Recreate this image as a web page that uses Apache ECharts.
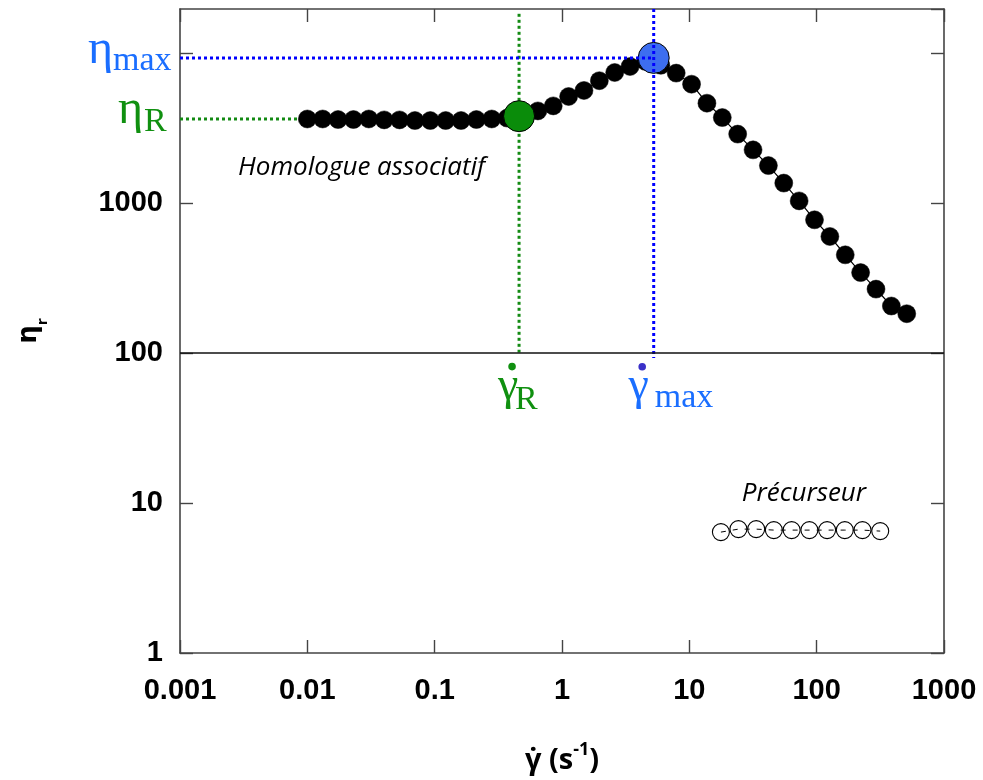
<!DOCTYPE html>
<html><head><meta charset="utf-8">
<script src="https://cdn.jsdelivr.net/npm/echarts@6/dist/echarts.min.js"></script>
<style>html,body{margin:0;padding:0;background:#fff}#c{width:983px;height:780px}</style>
</head><body><div id="c"></div>
<script>
// Homologue associatif (filled black circles)
const shearRate = [0.01,0.0132,0.01743,0.02302,0.03039,0.04013,0.05299,0.06997,0.09238,0.122,0.1611,0.2127,0.2808,0.3708,0.4896,0.6464,0.8535,1.127,1.488,1.965,2.594,3.425,4.523,5.972,7.885,10.41,13.75,18.15,23.97,31.65,41.78,55.17,72.85,96.2,127.0,167.7,221.4,292.4,386.1,509.8];
const viscosity = [3640,3640,3610,3610,3640,3590,3590,3555,3555,3555,3555,3610,3640,3690,3760,4120,4450,5140,5640,6550,7430,8150,8800,8300,7360,6210,4640,3720,2885,2265,1780,1360,1035,774,599,452,344,267,206,183];
// Précurseur (open circles)
const precShear = [17.7,24.3,33.5,46.1,63.6,87.7,120.8,166.4,229,315.6];
const precVisc = [6.4,6.7,6.7,6.6,6.6,6.6,6.6,6.6,6.6,6.5];
// Characteristic points
const gammaR = 0.46, etaR = 3800, etaPlateau = 3640;
const gammaMax = 5.25, etaMax = 9300;
// Tick labels
const xTickLabels = [0.001,0.01,0.1,1,10,100,1000];
const yTickLabels = [1,10,100,1000];
const xMin = 0.001, xMax = 1000, yMin = 1, yMax = 19700;

const BLUE = '#1a6eff', GREEN = '#109010', DOTBLUE = '#0000ff', DOTGREEN = '#138a13';
const AX = '#444';

function fmt(labels){
  return v => {
    const m = labels.find(t => Math.abs(Math.log10(v) - Math.log10(t)) < 1e-6);
    return m === undefined ? '' : String(m);
  };
}
const zip = (a,b) => a.map((v,i)=>[v,b[i]]);

const chart = echarts.init(document.getElementById('c'), null, {renderer:'canvas'});
const axisCommon = {
  type:'log', logBase:10,
  axisLine:{show:true, onZero:false, lineStyle:{color:AX, width:1.6}},
  axisTick:{show:true, inside:true, length:13, lineStyle:{color:AX, width:1.4}},
  splitLine:{show:false}, minorTick:{show:false}
};
const option = {
  animation:false,
  backgroundColor:'#fff',
  grid:{left:180, right:39, top:9, bottom:127, containLabel:false, outerBoundsMode:'none'},
  xAxis:[
    Object.assign({}, axisCommon, {min:xMin, max:xMax, splitNumber:6, position:'bottom',
      axisLabel:{show:true, formatter:fmt(xTickLabels), fontFamily:'Liberation Sans', fontWeight:'bold', fontSize:29, color:'#000', margin:23, showMinLabel:true, showMaxLabel:true},
      name:'{a|γ̇ (s}{s|-1}{a|)}', nameLocation:'middle', nameGap:88,
      nameTextStyle:{rich:{a:{fontFamily:'Open Sans', fontWeight:'bold', fontSize:29, color:'#000', lineHeight:34, verticalAlign:'bottom'}, s:{fontFamily:'Open Sans', fontWeight:'bold', fontSize:18, color:'#000', lineHeight:34, verticalAlign:'top', padding:[0,0,16,0]}}}
    }),
    Object.assign({}, axisCommon, {min:xMin, max:xMax, splitNumber:6, position:'top', axisLabel:{show:false}})
  ],
  yAxis:[
    Object.assign({}, axisCommon, {min:yMin, max:yMax, splitNumber:5, position:'left',
      axisLabel:{show:true, formatter:fmt(yTickLabels), fontFamily:'Liberation Sans', fontWeight:'bold', fontSize:29, color:'#000', margin:17, showMaxLabel:false},
      name:'{a|η}{s|r}', nameLocation:'middle', nameGap:138, nameRotate:90,
      nameTextStyle:{rich:{a:{fontFamily:'DejaVu Sans', fontWeight:'bold', fontSize:26, color:'#000', lineHeight:32, verticalAlign:'bottom'}, s:{fontFamily:'DejaVu Sans', fontWeight:'bold', fontSize:14, color:'#000', lineHeight:32, verticalAlign:'bottom', padding:[0,0,-8,0]}}}
    }),
    Object.assign({}, axisCommon, {min:yMin, max:yMax, splitNumber:5, position:'right', axisLabel:{show:false}})
  ],
  series:[
    { name:'guideGreen', type:'line', z:1, symbol:'none', silent:true,
      data:[[xMin, etaPlateau],[shearRate[0], etaPlateau]],
      lineStyle:{color:DOTGREEN, width:3, type:[3,3]} },
    { name:'guideGreenV', type:'line', z:1, symbol:'none', silent:true,
      data:[[gammaR, 18300],[gammaR, 101]],
      lineStyle:{color:DOTGREEN, width:3, type:[3,3]} },
    { name:'Homologue associatif', type:'line', z:2, symbol:'circle', symbolSize:18,
      data:zip(shearRate, viscosity),
      itemStyle:{color:'#000', borderColor:'#000', borderWidth:0.5},
      lineStyle:{color:'#000', width:1.2},
      markLine:{silent:true, symbol:['none','none'], label:{show:false},
        lineStyle:{color:'#111', width:1.6, type:'solid'}, data:[{yAxis:100}]} },
    { name:'Précurseur', type:'line', z:2, symbol:'circle', symbolSize:17,
      data:zip(precShear, precVisc),
      itemStyle:{color:'rgba(0,0,0,0)', borderColor:'#000', borderWidth:1.1},
      lineStyle:{color:'#000', width:1, type:[5,7]} },
    { name:'R', type:'scatter', z:3, symbol:'circle', symbolSize:31,
      data:[[gammaR, etaR]], itemStyle:{color:'#0a8c0a', opacity:1, borderColor:'#000', borderWidth:1} },
    { name:'max', type:'scatter', z:3, symbol:'circle', symbolSize:31,
      data:[[gammaMax, etaMax]], itemStyle:{color:'#3d6ef0', opacity:1, borderColor:'#000', borderWidth:1} },
    { name:'guideBlueH', type:'line', z:4, symbol:'none', silent:true,
      data:[[xMin, etaMax],[gammaMax, etaMax]],
      lineStyle:{color:DOTBLUE, width:3, type:[3,3]} },
    { name:'guideBlueV', type:'line', z:4, symbol:'none', silent:true,
      data:[[gammaMax, yMax],[gammaMax, 92.6]],
      lineStyle:{color:DOTBLUE, width:3, type:[3,3]} }
  ]
};
chart.setOption(option);

const P = v => chart.convertToPixel({xAxisIndex:0, yAxisIndex:0}, v);
const x0 = P([xMin, yMin])[0];
const pm = P([gammaMax, etaMax]);
const pp = P([xMin, etaPlateau]);
const pr = P([gammaR, etaR]);
const y100 = P([xMin, 100])[1];
const serif = 'Liberation Serif';
function T(x, y, text, size, color, align){
  return {type:'text', x:x, y:y, silent:true, z:20,
    style:{text:text, fontFamily:serif, fontSize:size, fill:color, align:align||'left', verticalAlign:'middle'}};
}
const pHom = P([0.0267, 1720]);
const pPre = P([79.4, 11.6]);
chart.setOption({graphic:[
  T(x0-67, pm[1]-7.5, 'η', 48, BLUE, 'right'),
  T(x0-67, pm[1]+3.5, 'max', 34, BLUE, 'left'),
  T(x0-37, pp[1]-8.5, 'η', 48, GREEN, 'right'),
  T(x0-36, pp[1]+3.5, 'R', 34, GREEN, 'left'),
  T(pr[0]-11, y100+34, 'γ', 46, GREEN, 'center'),
  {type:'circle', silent:true, z:20, shape:{cx:pr[0]-7, cy:y100+13.5, r:3.8}, style:{fill:GREEN}},
  T(pr[0]-4, y100+47, 'R', 34, GREEN, 'left'),
  T(pm[0]-15, y100+34, 'γ', 46, BLUE, 'center'),
  {type:'circle', silent:true, z:20, shape:{cx:pm[0]-11.5, cy:y100+13.7, r:3.8}, style:{fill:'#3a30c8'}},
  T(pm[0]+1, y100+45, 'max', 34, BLUE, 'left'),
  {type:'text', x:pHom[0], y:pHom[1], silent:true, z:20, style:{text:'Homologue associatif', fontFamily:'Open Sans', fontStyle:'italic', fontSize:26, fill:'#000', align:'center', verticalAlign:'middle'}},
  {type:'text', x:pPre[0], y:pPre[1], silent:true, z:20, style:{text:'Précurseur', fontFamily:'Open Sans', fontStyle:'italic', fontSize:26, fill:'#000', align:'center', verticalAlign:'middle'}}
]});
</script>
</body></html>
